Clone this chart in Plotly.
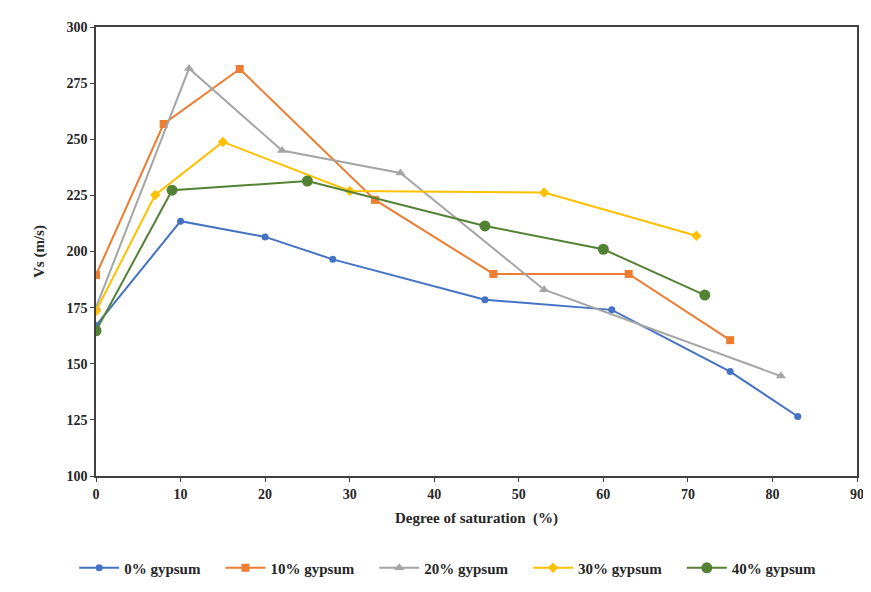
import plotly.graph_objects as go

x_0 = [0, 10, 20, 28, 46, 61, 75, 83]
y_0 = [167, 213.5, 206.5, 196.5, 178.5, 174, 146.5, 126.5]

x_10 = [0, 8, 17, 33, 47, 63, 75]
y_10 = [189.5, 256.8, 281.3, 223, 190, 190, 160.5]

x_20 = [0, 11, 22, 36, 53, 81]
y_20 = [175, 281.5, 245, 235, 183, 144.5]

x_30 = [0, 7, 15, 30, 53, 71]
y_30 = [173.5, 225.2, 248.8, 227, 226.3, 207]

x_40 = [0, 9, 25, 46, 60, 72]
y_40 = [164.7, 227.3, 231.4, 211.4, 201, 180.6]

names = ["0% gypsum", "10% gypsum", "20% gypsum", "30% gypsum", "40% gypsum"]
colors = ["#4472C4", "#ED7D31", "#A5A5A5", "#FFC000", "#548235"]
symbols = ["circle", "square", "triangle-up", "diamond", "circle"]
sizes = [7, 8, 9, 8, 11]
xs = [x_0, x_10, x_20, x_30, x_40]
ys = [y_0, y_10, y_20, y_30, y_40]

font_family = "Times New Roman, Liberation Serif, DejaVu Serif, serif"

fig = go.Figure()
for n, c, s, sz, xv, yv in zip(names, colors, symbols, sizes, xs, ys):
    fig.add_trace(go.Scatter(
        x=xv, y=yv, name="<b>" + n + "</b>&nbsp;&nbsp;&nbsp;&nbsp;", mode="lines+markers",
        line=dict(color=c, width=2),
        marker=dict(color=c, symbol=s, size=sz),
    ))

axis_common = dict(
    showline=True, linecolor="#404040", linewidth=1.5, mirror=True,
    ticks="outside", ticklen=4, tickcolor="#404040",
    showgrid=False, zeroline=False,
    tickfont=dict(family=font_family, size=14, color="#262626"),
    tickprefix="<b>", ticksuffix="</b>",
)

# page body has an 8px margin; compensate so the plot area lands at the reference pixels
fig.update_layout(
    width=863, height=584,
    margin=dict(l=88, r=7, t=19, b=116),
    paper_bgcolor="white", plot_bgcolor="white",
    font=dict(family=font_family, size=14, color="#262626"),
    xaxis=dict(range=[0, 90], dtick=10, tick0=0,
               title=dict(text="<b>Degree of saturation  (%)</b>",
                          font=dict(family=font_family, size=15), standoff=12),
               **axis_common),
    yaxis=dict(range=[100, 300], dtick=25, tick0=100,
               title=dict(text="<b>Vs (m/s)</b>",
                          font=dict(family=font_family, size=15), standoff=18),
               **axis_common),
    legend=dict(orientation="h", x=0.472, xanchor="center", y=-0.205, yanchor="middle",
                font=dict(family=font_family, size=15, color="#262626"),
                itemwidth=40, traceorder="normal"),
    shapes=[
        dict(type="line", xref="paper", yref="paper",
             x0=(6 - 96) / 760, x1=(871 - 96) / 760,
             y0=1 + 20 / 449, y1=1 + 20 / 449,
             line=dict(color="#D9D9D9", width=1)),
        dict(type="line", xref="paper", yref="paper",
             x0=(6 - 96) / 760, x1=(6 - 96) / 760,
             y0=1 + 20 / 449, y1=-116 / 449,
             line=dict(color="#D9D9D9", width=1)),
    ],
)

fig.write_html("out.html")
